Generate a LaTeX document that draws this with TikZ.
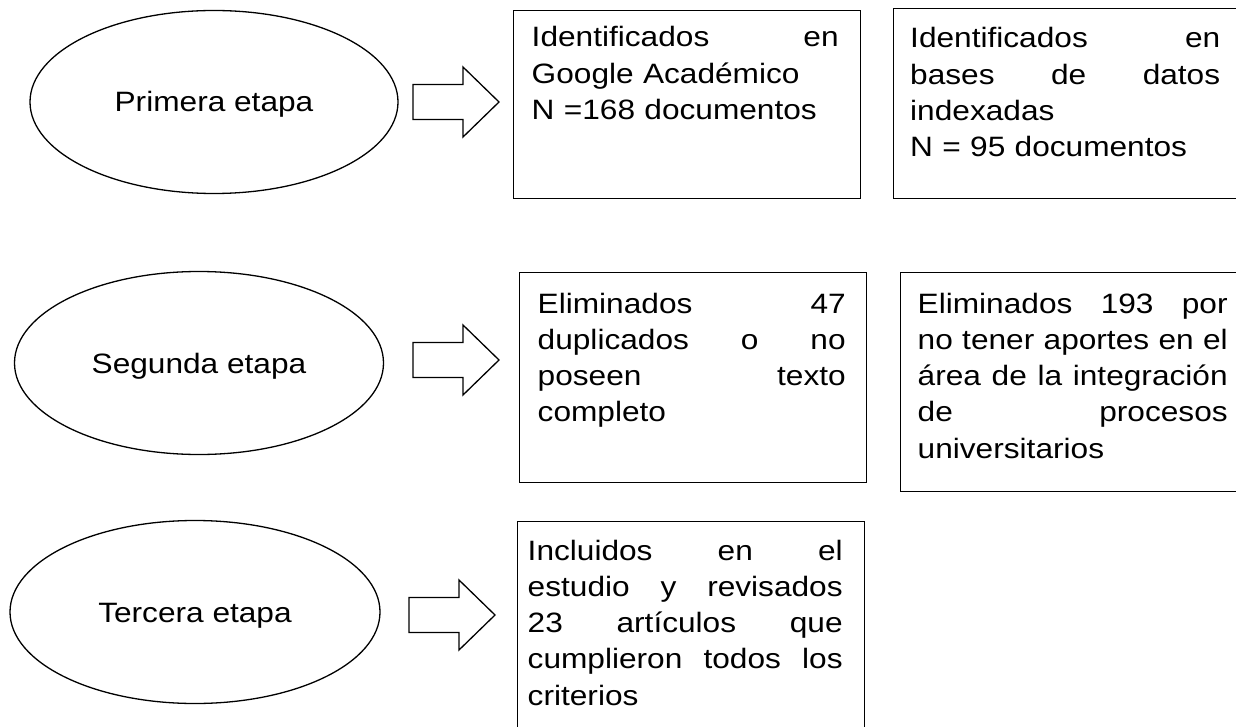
\documentclass[tikz,border=0pt]{standalone}
\usepackage{fontspec}
\setmainfont{Liberation Sans}[FakeStretch=1.13]
\usetikzlibrary{shapes.geometric}
\newcommand\jline[1]{\leavevmode\hbox to \linewidth{#1}}
\begin{document}
\begin{tikzpicture}[x=1pt,y=-1pt,
  stage/.style={draw, ellipse, line width=1.3pt, inner sep=0pt,
    text height=20pt, text depth=0pt, font=\fontsize{28}{36.3}\selectfont},
  box/.style={draw, line width=1pt, rectangle, anchor=north west, inner sep=0pt},
  txt/.style={anchor=base west, inner sep=0pt, align=left,
    font=\fontsize{28}{36.3}\selectfont},
  barrow/.pic={\draw[line width=1.3pt, line join=miter]
    (0,-17.5) -- (50,-17.5) -- (50,-35) -- (86,0) -- (50,35) -- (50,17.5) -- (0,17.5) -- cycle;}
]
\useasboundingbox[fill=white] (0,0) rectangle (1236,727);

% stages
\node[stage, minimum width=368pt, minimum height=183pt] (e1) at (214,102) {Primera etapa};
\node[stage, minimum width=369pt, minimum height=183pt] (e2) at (199,363) {Segunda etapa};
\node[stage, minimum width=370pt, minimum height=183pt] (e3) at (195,612) {Tercera etapa};

% block arrows
\coordinate (a1) at (413,102);
\coordinate (a2) at (413,360);
\coordinate (a3) at (409,615);
\pic at (a1) {barrow};
\pic at (a2) {barrow};
\pic at (a3) {barrow};

% boxes
\node[box, minimum width=347pt, minimum height=188pt] (b1) at (513,10) {};
\node[box, minimum width=349pt, minimum height=190pt] (b2) at (893,8) {};
\node[box, minimum width=347pt, minimum height=210pt] (b3) at (519,272) {};
\node[box, minimum width=349pt, minimum height=219pt] (b4) at (900,272) {};
\node[box, minimum width=347pt, minimum height=240pt] (b5) at (517,521) {};

% texts
\node[txt, text width=307pt] (t1) at (531.5,47) {%
  \jline{Identificados\hfill en}\\
  Google Académico\\
  N =168 documentos};
\node[txt, text width=310pt] (t2) at (910,48) {%
  \jline{Identificados\hfill en}\\
  \jline{bases\hfill de\hfill datos}\\
  indexadas\\
  N = 95 documentos};
\node[txt, text width=308pt] (t3) at (537.5,313) {%
  \jline{Eliminados\hfill 47}\\
  \jline{duplicados\hfill o\hfill no}\\
  \jline{poseen\hfill texto}\\
  completo};
\node[txt, text width=310pt] (t4) at (917.5,313) {%
  \jline{Eliminados\hfill 193\hfill por}\\
  \jline{no\hfill tener\hfill aportes\hfill en\hfill el}\\
  \jline{área\hfill de\hfill la\hfill integración}\\
  \jline{de\hfill procesos}\\
  universitarios};
\node[txt, text width=315pt] (t5) at (527.5,560) {%
  \jline{Incluidos\hfill en\hfill el}\\
  \jline{estudio\hfill y\hfill revisados}\\
  \jline{23\hfill artículos\hfill que}\\
  \jline{cumplieron\hfill todos\hfill los}\\
  criterios};
\end{tikzpicture}
\end{document}
